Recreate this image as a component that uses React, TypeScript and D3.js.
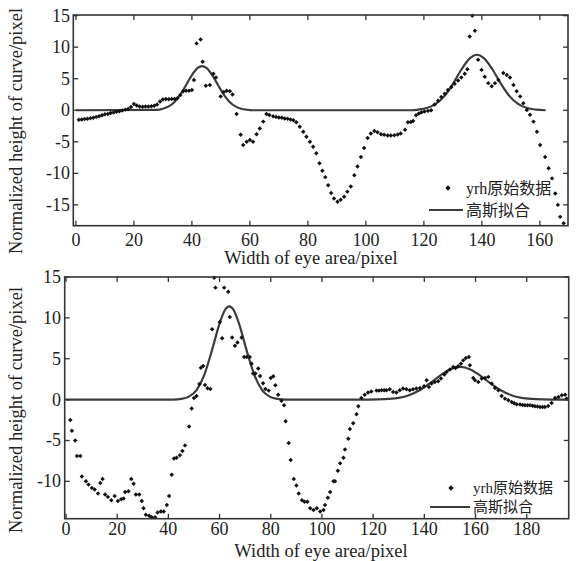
import React from 'react';
import * as d3 from 'd3';

// raw profile of the upper eye region (x pixel, normalized height)
const topPoints: [number, number][] = [
  [1, -1.5], [2, -1.45], [3, -1.4], [4, -1.35], [5, -1.25], [6, -1.2], [7, -1.05], [8, -0.95],
  [9, -0.8], [10, -0.65], [11, -0.6], [12, -0.45], [13, -0.35], [14, -0.25], [15, -0.15],
  [16, -0.05], [17, 0.1], [18, 0.2], [19, 0.5], [20, 1.0], [21, 0.75], [22, 0.6], [23, 0.55],
  [24, 0.6], [25, 0.6], [26, 0.65], [27, 0.7], [28, 0.9], [29, 1.4], [30, 1.7], [31, 1.8],
  [32, 1.75], [33, 1.8], [34, 1.8], [35, 1.9], [36, 2.4], [37, 3.0], [38, 3.1], [39, 3.1],
  [40, 3.2], [40.7, 4.8], [41.6, 10.6], [43, 11.2], [43.7, 7.7], [44.8, 3.9], [46.2, 4.0],
  [47.4, 5.8], [48.3, 5.2], [49.9, 2.2], [51, 2.9], [52, 3.1], [53.1, 3.0], [54, 2.5],
  [55.4, -0.6], [56.8, -3.9], [57.7, -5.5], [58.9, -5.0], [60, -4.7], [61.1, -5.0],
  [62.3, -3.8], [63.4, -2.9], [64.6, -1.8], [65.7, -0.6], [66.7, -0.75], [68, -0.95],
  [69, -1.05], [70, -1.15], [71, -1.2], [72, -1.3], [73, -1.35], [74, -1.45], [75, -1.6],
  [76, -1.9], [77.2, -2.6], [78.4, -3.4], [79.5, -4.2], [80.7, -5.0], [81.8, -5.8],
  [82.9, -6.8], [84, -8.4], [85, -9.6], [86, -10.6], [87, -11.9], [88, -13.1], [89, -14.0],
  [90.2, -14.5], [91.3, -14.2], [92.5, -13.7], [93.6, -12.9], [94.8, -12.1], [96, -10.3],
  [97.1, -8.9], [98.3, -7.4], [99.4, -6.0], [100.6, -4.4], [101.7, -3.7], [102.9, -3.3],
  [104, -3.5], [105.2, -3.8], [106.3, -3.9], [107.5, -4.0], [108.6, -4.0], [109.8, -3.95],
  [111, -3.85], [112, -3.7], [113.5, -3.1], [114.5, -1.9], [115.5, -1.85], [116.3, -1.7],
  [117.3, -0.8], [118.3, -0.5], [119.2, -0.3], [120.2, -0.2], [121.4, -0.1], [122.5, 0.0],
  [123.7, 0.9], [124.9, 1.5], [126, 2.1], [127.2, 2.6], [128.3, 3.2], [129.5, 3.7],
  [130.6, 4.2], [131.8, 4.7], [132.9, 5.2], [134.1, 5.8], [135, 6.5], [135.8, 11.7],
  [136.7, 15.0], [137.6, 12.6], [138.7, 8.0], [139.9, 6.4], [141, 5.3], [142.2, 4.3],
  [143.4, 3.8], [144.5, 4.3], [145.7, 4.8], [147.4, 5.9], [148.6, 5.6], [149.7, 5.2],
  [150.9, 4.0], [152, 3.0], [153.2, 2.2], [154.3, 1.1], [155.5, 0.05], [156.6, -0.7],
  [157.8, -1.8], [159, -3.4], [160.1, -5.5], [161.8, -7.4], [163, -9.2], [164.2, -10.8],
  [165.3, -13.2], [166.2, -15.0], [167, -16.9], [168.2, -17.9],
];

// gaussian fit for the upper panel
const topFit: [number, number][] = [
  [0, 0], [28, 0.05], [30, 0.24], [32, 0.61], [34, 1.32], [36, 2.47], [38, 4.0], [40, 5.58],
  [42, 6.71], [43.5, 7.0], [45, 6.71], [47, 5.58], [49, 4.0], [51, 2.47], [53, 1.32],
  [55, 0.61], [57, 0.24], [59, 0.08], [61, 0], [116, 0], [118, 0.1], [121, 0.35], [124, 0.96],
  [127, 2.2], [130, 4.18], [133, 6.5], [136, 8.3], [138.3, 8.8], [140.6, 8.3], [143.6, 6.5],
  [146.6, 4.18], [149.6, 2.2], [152.6, 0.96], [155.6, 0.35], [158.6, 0.1], [162, 0],
];

const bottomPoints: [number, number][] = [
  [1.7, -2.5], [2.3, -3.8], [3.6, -5.0], [4.3, -6.9], [5.6, -6.9], [6.2, -9.4], [7.8, -10.0],
  [8.8, -10.4], [10.1, -10.8], [11.2, -11.0], [12.5, -11.5], [13.4, -10.2], [14.3, -9.7],
  [15.3, -11.6], [16.4, -11.9], [17.7, -12.3], [19, -11.8], [20.3, -12.4], [21.6, -12.2],
  [22.5, -12.1], [23.1, -11.3], [24.4, -11.2], [25.5, -9.7], [26.4, -10.3], [27.3, -11.6],
  [28.6, -11.6], [29.6, -12.4], [30.3, -13.3], [31.2, -14.1], [32.5, -14.2], [33.5, -14.4],
  [34.8, -14.4], [35.8, -13.8], [37.1, -13.7], [38.2, -13.7], [39.4, -12.9], [40.3, -11.8],
  [41.3, -9.2], [42.2, -7.2], [43.2, -7.1], [44.5, -6.8], [45.5, -6.3], [46.5, -5.6],
  [48.1, -3.3], [49.1, -1.1], [50, 0.2], [51, 0.45], [52.1, 1.9], [52.7, 3.9], [53.6, 4.1],
  [54.3, 1.8], [55.3, 1.4], [56.4, 1.3], [57.1, 8.6], [57.9, 14.9], [58.4, 13.7], [60.1, 9.5],
  [61, 7.5], [61.8, 13.7], [63.4, 13.2], [64, 10.1], [64.9, 7.6], [66, 6.6], [67, 7.0],
  [68.6, 7.6], [69.6, 5.2], [70.6, 5.2], [71.8, 5.2], [72.5, 4.4], [73.1, 3.2], [74, 3.2],
  [75.1, 3.8], [75.8, 2.9], [77, 2.0], [77.9, 1.3], [79.2, 1.1], [80, 2.65], [81, 2.85],
  [81.8, 1.75], [82.9, 0.6], [84.2, -0.15], [85.2, -0.7], [85.8, -2.65], [87, -5.3],
  [87.8, -7.4], [89, -9.7], [90, -10.5], [90.9, -11.5], [92.2, -12.3], [93.2, -12.5],
  [94.3, -12.5], [95.4, -13.3], [96.7, -13.5], [98, -13.3], [99.3, -13.7], [100.6, -13.5],
  [101.2, -12.9], [102.3, -12.0], [103.2, -11.3], [104.5, -10.0], [105.1, -10.0],
  [106.2, -8.7], [107.1, -7.8], [108.4, -7.1], [109, -6.1], [110.3, -4.8], [110.9, -3.6],
  [112.2, -2.9], [113.5, -1.8], [114.2, -0.8], [115.4, 0.2], [116.7, 0.6], [118, 0.86],
  [119.3, 1.0], [121.3, 1.1], [122.3, 1.1], [123.3, 1.14], [124.3, 1.14], [125.2, 1.14],
  [126.5, 1.27], [127.8, 0.94], [129.1, 0.86], [130.4, 1.14], [131.7, 1.35], [133, 1.27],
  [134.3, 1.14], [135.6, 1.27], [136.9, 1.35], [138.3, 1.43], [139.9, 1.63], [140.9, 2.37],
  [141.8, 1.55], [142.8, 1.96], [144.1, 2.16], [145.4, 2.24], [146.5, 2.57], [147.8, 3.06],
  [148.7, 3.39], [150, 3.67], [151.3, 4.0], [152.2, 3.88], [153.2, 4.08], [154.3, 4.4],
  [155.2, 4.8], [156.2, 5.1], [157.4, 5.2], [157.8, 4.2], [159.1, 2.65], [159.8, 2.37],
  [161.1, 2.16], [162.4, 2.57], [163.7, 2.65], [165, 2.78], [166.3, 1.96], [167.6, 1.43],
  [168.9, 1.14], [170.2, 0.45], [171.5, 0.12], [172.8, -0.08], [174.1, -0.29], [175.1, -0.45],
  [176.1, -0.57], [177.4, -0.61], [178.4, -0.65], [179.3, -0.69], [180.3, -0.69],
  [181.3, -0.69], [182.3, -0.75], [183.2, -0.82], [184.2, -0.85], [185.2, -0.9], [186.2, -0.9],
  [187.1, -0.9], [188.4, -0.78], [189.7, -0.41], [191.1, 0.2], [192.4, 0.33], [193.7, 0.53],
  [195, 0.6], [195.6, 0.12],
];

const bottomFit: [number, number][] = [
  [0, 0], [42, 0], [45, 0.08], [48, 0.36], [51, 1.17], [54, 3.0], [57, 6.0], [60, 9.3],
  [62, 10.9], [63.8, 11.4], [65.6, 10.9], [67.6, 9.3], [70.6, 6.0], [73.6, 3.0], [76.6, 1.17],
  [79.6, 0.36], [82.6, 0.08], [86, 0], [118, 0], [122, 0.02], [126, 0.08], [130, 0.22],
  [134, 0.54], [138, 1.11], [142, 1.95], [146, 2.9], [150, 3.69], [154, 4.0], [158, 3.69],
  [162, 2.9], [166, 1.95], [170, 1.11], [174, 0.54], [178, 0.22], [182, 0.08], [186, 0.02],
  [190, 0], [196.4, 0],
];

const topXTicks = [0, 20, 40, 60, 80, 100, 120, 140, 160];
const topYTicks = [15, 10, 5, 0, -5, -10, -15];
const bottomXTicks = [0, 20, 40, 60, 80, 100, 120, 140, 160, 180];
const bottomYTicks = [15, 10, 5, 0, -5, -10];
const legendLabels = ['yrh原始数据', '高斯拟合'];
const xTitle = 'Width of eye area/pixel';
const yTitle = 'Normalized height of curve/pixel';

const FONT = '"Liberation Serif", "Times New Roman", "Noto Sans CJK SC", serif';
const INK = '#333';

function Panel({ box, xDomain, yDomain, xTicks, yTicks, points, fit, legend, titleX, titleY, yTitleY, tickLabelX, tickLabelDy }) {
  const x = d3.scaleLinear().domain(xDomain).range([box.left, box.right]);
  const y = d3.scaleLinear().domain(yDomain).range([box.bottom, box.top]);
  const line = d3.line<[number, number]>()
    .x((d) => x(d[0]))
    .y((d) => y(d[1]))
    .curve(d3.curveMonotoneX);
  const marker = d3.symbol().type(d3.symbolSquare).size(10)();
  const tick = 5;

  return (
    <g>
      {/* fit curve */}
      <path d={line(fit) || ''} fill="none" stroke="#3c3c3c" strokeWidth={2.2} />

      {/* raw data */}
      {points.map((d, i) => (
        <path key={i} d={marker} fill="#111"
          transform={`translate(${x(d[0])},${y(d[1])}) rotate(45)`} />
      ))}

      {/* frame */}
      <rect x={box.left} y={box.top} width={box.right - box.left} height={box.bottom - box.top}
        fill="none" stroke={INK} strokeWidth={1.6} />

      {xTicks.map((t) => (
        <g key={'x' + t}>
          <line x1={x(t)} x2={x(t)} y1={box.bottom} y2={box.bottom - tick} stroke={INK} strokeWidth={1.3} />
          <line x1={x(t)} x2={x(t)} y1={box.top} y2={box.top + tick} stroke={INK} strokeWidth={1.3} />
          <text x={x(t)} y={box.bottom + tickLabelDy} textAnchor="middle" dominantBaseline="central"
            fontFamily={FONT} fontSize={18} fill="#222">{t}</text>
        </g>
      ))}

      {yTicks.map((t) => (
        <g key={'y' + t}>
          <line x1={box.left} x2={box.left + tick} y1={y(t)} y2={y(t)} stroke={INK} strokeWidth={1.3} />
          <line x1={box.right} x2={box.right - tick} y1={y(t)} y2={y(t)} stroke={INK} strokeWidth={1.3} />
          <text x={tickLabelX} y={y(t)} textAnchor="end" dominantBaseline="central"
            fontFamily={FONT} fontSize={18} fill="#222">{String(t)}</text>
        </g>
      ))}

      {/* axis titles */}
      <text x={titleX} y={titleY} textAnchor="middle" dominantBaseline="central"
        fontFamily={FONT} fontSize={18.5} fill="#222">{xTitle}</text>
      <text transform={`translate(16,${yTitleY}) rotate(-90)`} textAnchor="middle" dominantBaseline="central"
        fontFamily={FONT} fontSize={18.5} fill="#222">{yTitle}</text>

      {/* legend */}
      <path d={d3.symbol().type(d3.symbolSquare).size(14)()}
        transform={`translate(${legend.dotX},${legend.dotY}) rotate(45)`} fill="#111" />
      <text x={legend.textX} y={legend.dotY} dominantBaseline="central"
        fontFamily={FONT} fontSize={legend.fontSize} fill="#222">{legendLabels[0]}</text>
      <line x1={legend.lineX1} x2={legend.lineX2} y1={legend.lineY} y2={legend.lineY}
        stroke="#3c3c3c" strokeWidth={2.2} />
      <text x={legend.textX} y={legend.lineY} dominantBaseline="central"
        fontFamily={FONT} fontSize={legend.fontSize} fill="#222">{legendLabels[1]}</text>
    </g>
  );
}

export default function App() {
  return (
    <svg width={580} height={561} style={{ position: 'absolute', left: 0, top: 0, background: '#fff' }}>
      <Panel
        box={{ left: 73.3, right: 568, top: 15, bottom: 225.7 }}
        xDomain={[-0.9, 169.7]}
        yDomain={[-18.3, 15.1]}
        xTicks={topXTicks}
        yTicks={topYTicks}
        points={topPoints}
        fit={topFit}
        titleX={311}
        titleY={258}
        yTitleY={131}
        tickLabelX={70}
        tickLabelDy={14}
        legend={{ dotX: 448, dotY: 188, textX: 466, lineX1: 429, lineX2: 463, lineY: 210, fontSize: 16 }}
      />
      <Panel
        box={{ left: 64.7, right: 568.7, top: 277, bottom: 518.7 }}
        xDomain={[-0.5, 196.4]}
        yDomain={[-14.57, 15.0]}
        xTicks={bottomXTicks}
        yTicks={bottomYTicks}
        points={bottomPoints}
        fit={bottomFit}
        titleX={321}
        titleY={551}
        yTitleY={410}
        tickLabelX={61}
        tickLabelDy={10}
        legend={{ dotX: 451, dotY: 488, textX: 473, lineX1: 430, lineX2: 470, lineY: 507, fontSize: 15 }}
      />
    </svg>
  );
}
